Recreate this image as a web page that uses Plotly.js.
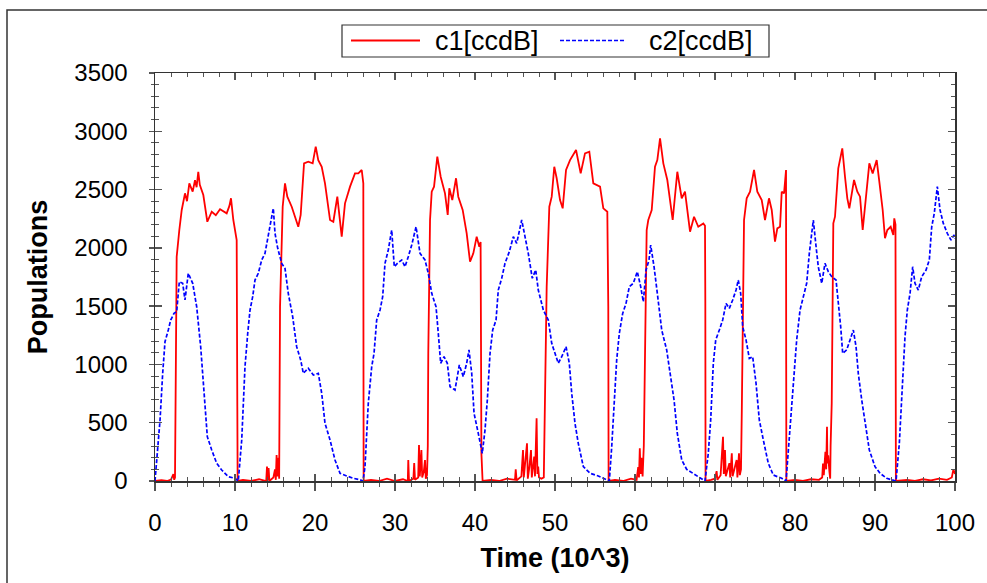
<!DOCTYPE html>
<html>
<head>
<meta charset="utf-8">
<script src="https://cdn.plot.ly/plotly-3.0.1.min.js"></script>
<style>html,body{margin:0;padding:0;background:#fff;}#chart{width:987px;height:583px;}</style>
</head>
<body>
<div id="chart"></div>
<script>
// ---- data (time in 10^3 units, populations) ----
var c1Name = "c1[ccdB]";
var c2Name = "c2[ccdB]";

var c1Time = [0,0.8,1.5,2.0,2.3,2.4,2.5,2.62,2.71,3.04,3.34,3.75,4.0,4.29,4.71,5.0,5.2,5.41,5.6,6.04,6.54,7.09,7.6,8.13,8.6,8.96,9.3,9.5,9.79,10.21,10.29,10.33,
11,12,13,13.9,14.0,14.1,14.2,14.3,14.8,15.0,15.1,15.2,15.3,15.45,15.52,15.56,15.63,15.96,16.25,16.54,17.09,17.5,17.91,18.21,18.63,19.16,19.71,20.09,20.41,20.84,21.25,21.88,22.29,22.79,23.34,23.75,24.38,25.0,25.41,25.84,26.04,26.06,26.08,
27,28,29,30,31,31.6,31.66,31.75,32.3,32.4,32.5,32.9,33.0,33.1,33.3,33.4,33.6,33.75,33.85,34.0,34.1,34.16,34.38,34.59,34.88,35.29,35.71,36.25,36.59,36.79,37.16,37.63,37.91,38.46,38.96,39.38,39.79,40.21,40.54,40.7,40.75,40.8,40.95,
42,43,44,45,45.09,45.2,45.8,46.0,46.1,46.5,46.6,46.8,47.0,47.1,47.4,47.5,47.7,47.8,47.9,48.0,48.3,48.6,48.7,48.96,49.29,49.59,49.91,50.21,50.63,50.96,51.38,51.88,52.63,53.21,53.75,54.29,54.79,55.21,55.63,56.04,56.54,56.66,56.7,
57.5,58.5,59.5,60.2,60.4,60.5,60.6,60.7,60.8,60.95,61.1,61.25,61.46,61.66,62.09,62.5,62.79,63.13,63.54,64.04,64.71,65.29,65.84,66.25,66.88,67.38,67.91,68.54,68.75,68.79,68.82,
69.5,70.0,70.2,70.3,70.7,71.0,71.1,71.25,71.35,71.6,71.8,71.9,72.1,72.2,72.45,72.7,72.8,73.0,73.1,73.25,73.35,73.46,73.63,73.96,74.38,74.88,75.29,75.84,76.25,76.75,77.09,77.5,77.79,78.13,78.34,78.63,78.88,78.9,78.92,
80,81,82,83,83.4,83.5,83.6,83.8,83.9,84.0,84.05,84.15,84.3,84.4,84.45,84.59,84.79,85.0,85.41,85.63,85.91,86.25,86.54,86.79,87.38,87.79,88.13,88.46,88.88,89.29,89.71,90.21,90.54,90.96,91.25,91.54,91.96,92.29,92.41,92.56,92.59,92.61,
94,95,96,97,98,99,99.6,99.8,100];

var c1Values = [0,8,0,12,60,10,30,800,1924,2153,2325,2468,2400,2553,2482,2580,2520,2653,2540,2453,2224,2310,2280,2331,2310,2296,2360,2425,2239,2067,637,0,
10,0,15,0,123,5,110,0,30,100,10,223,40,200,20,1000,1495,2353,2553,2439,2353,2267,2181,2282,2725,2739,2725,2868,2753,2696,2553,2239,2224,2439,2096,2382,2525,2639,2639,2668,2553,1000,0,
10,0,20,0,15,0,180,0,20,153,10,30,309,40,266,30,80,180,20,50,300,1095,2239,2482,2525,2782,2610,2468,2282,2511,2410,2597,2439,2325,2125,1881,1953,2096,2010,2050,1200,237,0,
10,0,20,10,100,5,40,266,30,323,20,120,266,30,209,40,538,60,123,30,20,30,500,1667,2353,2439,2696,2597,2410,2339,2668,2753,2839,2639,2811,2825,2553,2539,2525,2339,2310,1495,0,
10,0,20,10,120,30,280,60,200,40,300,1095,2153,2239,2325,2696,2753,2940,2725,2582,2239,2653,2425,2482,2139,2267,2181,2210,2190,1524,0,
10,20,85,10,50,380,60,266,40,100,153,30,237,40,120,180,30,237,50,100,600,1324,2239,2425,2482,2668,2482,2410,2239,2425,2325,2053,2167,2181,2482,2468,2668,1000,0,
10,0,15,10,30,150,50,250,100,466,150,220,80,20,300,666,2210,2267,2682,2753,2854,2610,2425,2339,2582,2482,2439,2153,2439,2725,2639,2753,2568,2325,2082,2153,2181,2110,2253,2200,1000,0,
10,0,15,5,20,10,30,100,60];

var c2Time = [0,0.29,0.63,0.96,1.25,1.66,1.96,2.38,2.71,3.04,3.46,3.75,4.16,4.71,5.21,5.71,6.04,6.54,7.09,7.71,8.34,9.16,10.0,10.29,
10.41,10.84,11.25,11.59,11.88,12.21,12.5,12.91,13.34,13.75,14.16,14.59,14.79,15.0,15.34,15.84,16.25,16.66,17.21,17.71,18.21,18.54,19.16,19.79,20.41,20.84,21.25,21.88,22.5,23.13,23.96,24.79,25.63,26.0,
26.25,26.66,27.09,27.38,27.71,28.13,28.46,28.75,29.16,29.59,29.91,30.29,30.84,31.25,31.66,32.09,32.63,33.13,33.75,34.16,34.59,35.13,35.41,35.71,36.13,36.54,36.88,37.5,38.04,38.54,38.96,39.25,39.59,39.88,40.41,40.91,
41.25,41.54,41.88,42.21,42.63,42.91,43.34,43.75,44.29,44.79,45.21,45.54,45.84,46.25,46.66,47.16,47.59,47.91,48.54,49.16,49.59,50.0,50.41,50.84,51.38,51.79,52.09,52.5,52.91,53.54,54.38,55.41,56.25,56.79,
57.09,57.38,57.71,58.04,58.46,58.88,59.29,59.79,60.29,60.71,61.04,61.38,61.75,61.96,62.38,62.79,63.34,63.96,64.46,64.88,65.29,65.84,66.46,67.29,68.13,68.75,
69.16,69.46,69.79,70.09,70.54,70.96,71.38,71.79,72.21,72.63,72.91,73.21,73.46,73.88,74.29,74.71,75.13,75.54,76.04,76.66,77.29,78.34,78.88,
79.29,79.79,80.21,80.63,81.04,81.46,81.79,82.09,82.29,82.59,82.91,83.34,83.75,84.16,84.59,85.13,85.41,85.71,85.96,86.46,86.88,87.29,87.63,87.91,88.34,88.75,89.29,90.0,90.63,91.46,92.63,
93.04,93.46,93.75,94.04,94.38,94.71,95.0,95.41,95.84,96.38,96.79,97.09,97.41,97.79,98.13,98.54,99.04,99.5,99.88,100];

var c2Values = [0,237,523,924,1195,1295,1381,1438,1452,1710,1696,1553,1782,1696,1495,1152,838,380,266,152,94,37,23,0,
0,352,981,1267,1467,1581,1724,1782,1896,1953,2125,2267,2339,2125,1996,1867,1824,1610,1409,1152,1038,924,967,909,924,752,495,352,180,66,43,23,10,0,
123,666,981,1095,1381,1467,1581,1867,1982,2153,1838,1867,1896,1838,1924,2024,2181,1953,1896,1782,1610,1495,1267,1010,1066,1010,809,781,995,895,1010,1124,924,581,409,237,
437,695,1095,1295,1381,1638,1739,1867,1967,2096,2039,2153,2239,2096,1953,1739,1810,1638,1467,1381,1181,1095,1010,1066,1152,1010,752,495,323,123,66,43,15,0,
294,609,1038,1267,1438,1524,1667,1696,1796,1667,1538,1810,1896,2024,1838,1610,1295,1124,895,695,409,180,100,66,32,0,
237,523,1010,1210,1295,1381,1524,1481,1553,1638,1724,1610,1324,1210,1052,1066,838,523,352,152,51,23,0,
352,809,1210,1467,1581,1696,1953,2125,2239,2039,1838,1696,1867,1796,1753,1724,1553,1324,1095,1124,1210,1295,1152,924,695,523,266,123,66,23,0,
323,866,1238,1467,1610,1838,1696,1638,1753,1810,1896,2181,2296,2525,2325,2210,2125,2067,2110,2080];

var xTickVals = [0,10,20,30,40,50,60,70,80,90,100];
var yTickVals = [0,500,1000,1500,2000,2500,3000,3500];

// ---- layout helpers (pixel -> paper) ----
var L = 155, R = 955, T = 73, B = 481;
function px(x){ return (x - L) / (R - L); }
function py(y){ return (B - y) / (B - T); }

var FONT = "Liberation Sans, Arial, sans-serif";
var axisColor = "#333333";
var tickColor = "#555555";

var traces = [
  {x: c1Time, y: c1Values, name: c1Name, type: "scatter", mode: "lines",
   line: {color: "#ff0000", width: 1.8}, showlegend: false},
  {x: c2Time, y: c2Values, name: c2Name, type: "scatter", mode: "lines",
   line: {color: "#0000ff", width: 1.7, dash: "4px,2px"}, showlegend: false},
  {x: [], y: [], xaxis: "x2", yaxis: "y2", showlegend: false, type: "scatter", mode: "lines"}
];

var layout = {
  width: 987, height: 583,
  margin: {l: L, r: 987 - R, t: T, b: 583 - B, pad: 0},
  paper_bgcolor: "#ffffff", plot_bgcolor: "#ffffff",
  font: {family: FONT, color: "#000"},
  showlegend: false,
  xaxis: {
    range: [0, 100], tickvals: xTickVals, ticktext: xTickVals.map(String),
    ticks: "outside", ticklen: 8, tickwidth: 1.3, tickcolor: tickColor,
    minor: {dtick: 2, ticks: "outside", ticklen: 4, tickcolor: tickColor, tickwidth: 1},
    showgrid: false, zeroline: false, showline: true, linecolor: axisColor, linewidth: 1.5,
    tickfont: {size: 24, family: FONT, color: "#000"}, ticklabelstandoff: 12,
    title: {text: "Time (10^3)", font: {size: 27, family: FONT, color: "#000", weight: "bold"}, standoff: 13}
  },
  yaxis: {
    range: [0, 3500], tickvals: yTickVals, ticktext: yTickVals.map(String),
    ticks: "outside", ticklen: 5, tickwidth: 1.3, tickcolor: tickColor,
    minor: {dtick: 100, ticks: "outside", ticklen: 3, tickcolor: tickColor, tickwidth: 1},
    showgrid: false, zeroline: false, showline: true, linecolor: axisColor, linewidth: 1.5,
    tickfont: {size: 24, family: FONT, color: "#000"}, ticklabelstandoff: 16,
    title: {text: "Populations", font: {size: 27, family: FONT, color: "#000", weight: "bold"}, standoff: 19}
  },
  xaxis2: {
    overlaying: "x", anchor: "y", side: "bottom", range: [0, 100], dtick: 10,
    ticks: "inside", ticklen: 7, tickwidth: 1.3, tickcolor: tickColor,
    minor: {dtick: 2, ticks: "inside", ticklen: 4, tickcolor: tickColor, tickwidth: 1},
    mirror: "ticks", showline: true, linecolor: axisColor, linewidth: 1.5,
    showticklabels: false, showgrid: false, zeroline: false
  },
  yaxis2: {
    overlaying: "y", anchor: "x", side: "left", range: [0, 3500], dtick: 500,
    ticks: "inside", ticklen: 7, tickwidth: 1.3, tickcolor: tickColor,
    minor: {dtick: 100, ticks: "inside", ticklen: 4, tickcolor: tickColor, tickwidth: 1},
    mirror: "ticks", showline: true, linecolor: axisColor, linewidth: 1.5,
    showticklabels: false, showgrid: false, zeroline: false
  },
  shapes: [
    // outer frame
    {type: "rect", xref: "paper", yref: "paper", x0: px(7), y0: py(595), x1: px(995), y1: py(10),
     line: {color: "#333333", width: 1.5}, fillcolor: "rgba(0,0,0,0)", layer: "below"},
    // legend box
    {type: "rect", xref: "paper", yref: "paper", x0: px(342), y0: py(57), x1: px(769), y1: py(25),
     line: {color: "#333333", width: 1.2}, fillcolor: "#ffffff"},
    {type: "line", xref: "paper", yref: "paper", x0: px(351), y0: py(40.5), x1: px(420), y1: py(40.5),
     line: {color: "#ff0000", width: 1.8}},
    {type: "line", xref: "paper", yref: "paper", x0: px(560), y0: py(40.5), x1: px(626), y1: py(40.5),
     line: {color: "#0000ff", width: 1.6, dash: "4px,2px"}}
  ],
  annotations: [
    {xref: "paper", yref: "paper", x: px(433), y: py(41), xanchor: "left", yanchor: "middle",
     text: c1Name, showarrow: false, font: {size: 27, family: FONT, color: "#000"}},
    {xref: "paper", yref: "paper", x: px(647), y: py(41), xanchor: "left", yanchor: "middle",
     text: c2Name, showarrow: false, font: {size: 27, family: FONT, color: "#000"}}
  ]
};

Plotly.newPlot("chart", traces, layout, {displayModeBar: false, staticPlot: true});
</script>
</body>
</html>
